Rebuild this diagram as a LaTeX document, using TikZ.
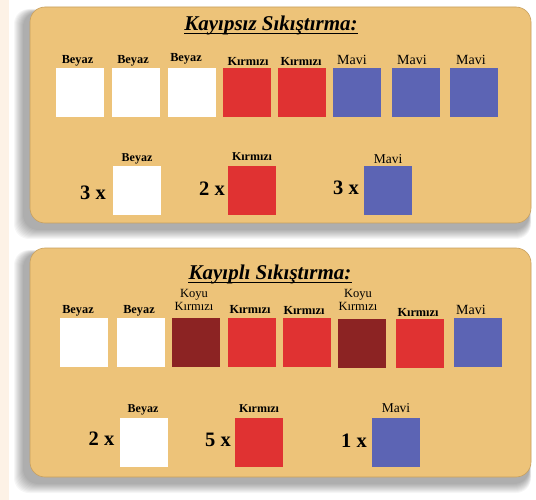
\documentclass[tikz,border=0pt]{standalone}
\usepackage{fontspec}
\setmainfont{Liberation Serif}
\definecolor{tan}{RGB}{237,195,121}
\definecolor{tanedge}{RGB}{200,160,95}
\definecolor{cred}{RGB}{224,50,50}
\definecolor{dred}{RGB}{140,35,35}
\definecolor{cblue}{RGB}{92,100,180}
\definecolor{cream}{RGB}{253,242,230}
\tikzset{
  panel/.style={fill=tan, draw=tanedge, line width=0.6pt, rounded corners=15pt},
  sq/.style={minimum width=48pt, minimum height=49pt, inner sep=0pt, draw=none},
  wsq/.style={sq, fill=white},
  rsq/.style={sq, fill=cred},
  dsq/.style={sq, fill=dred},
  bsq/.style={sq, fill=cblue},
  lb/.style={inner sep=0pt, font=\fontsize{12.3}{12}\selectfont\bfseries},
  lbs/.style={inner sep=0pt, font=\fontsize{12}{12}\selectfont\bfseries},
  lr/.style={inner sep=0pt, font=\fontsize{14}{14}\selectfont},
  lk/.style={inner sep=0pt, align=center, font=\fontsize{12.5}{13}\selectfont},
  cnt/.style={inner sep=0pt, font=\fontsize{20.5}{20}\selectfont\bfseries},
  ttl/.style={inner sep=0pt, font=\fontsize{21}{21}\selectfont\bfseries\itshape},
  uline/.style={line width=1.3pt}
}
\begin{document}
\begin{tikzpicture}[x=1pt,y=-1pt]
\useasboundingbox (0,0) rectangle (536,500);
\fill[white] (0,0) rectangle (536,500);
\fill[cream] (0,0) rectangle (9,500);
% shadows
\foreach \i in {1,...,10}{
  \fill[black, opacity=0.035, rounded corners=15pt] (30-6-\i,7+5-\i*0.3) rectangle (531-2+\i*0.2,223+6+\i);
  \fill[black, opacity=0.035, rounded corners=15pt] (30-6-\i,248+5-\i*0.3) rectangle (531-2+\i*0.2,477+6+\i);
}
% panels
\path[panel] (30,7) rectangle (531,223);
\path[panel] (30,248) rectangle (531,477);

% ---------- Panel 1 ----------
\node[ttl] (t1) at (271,25) {Kayıpsız Sıkıştırma:};
\draw[uline] ([yshift=-3.5pt]t1.base west) -- ([yshift=-3.5pt]t1.base east);

\node[wsq] (a1) at (79.5,92.5) {};
\node[wsq] (a2) at (135.5,92.5) {};
\node[wsq] (a3) at (192,92.5) {};
\node[rsq] (a4) at (247,92.5) {};
\node[rsq] (a5) at (302,92.5) {};
\node[bsq] (a6) at (357,92.5) {};
\node[bsq] (a7) at (416,92.5) {};
\node[bsq] (a8) at (473.5,92.5) {};

\node[lb] (la1) at (77.5,61) {Beyaz};
\node[lb] (la2) at (133,60.5) {Beyaz};
\node[lb] (la3) at (186,59) {Beyaz};
\node[lb] (la4) at (248,61) {Kırmızı};
\node[lb] (la5) at (301,61) {Kırmızı};
\node[lr] (la6) at (352,60) {Mavi};
\node[lr] (la7) at (412,60) {Mavi};
\node[lr] (la8) at (471,60) {Mavi};

\node[wsq] (b1) at (137,191) {};
\node[rsq] (b2) at (252,191) {};
\node[bsq] (b3) at (388,191) {};
\node[lbs] (lb1) at (137,159) {Beyaz};
\node[lbs] (lb2) at (252,157) {Kırmızı};
\node[lr, font=\fontsize{13.5}{13}\selectfont] (lb3) at (388,159) {Mavi};
\node[cnt] (n1) at (93,193) {3 x};
\node[cnt] (n2) at (212,189) {2 x};
\node[cnt] (n3) at (346,188) {3 x};

% ---------- Panel 2 ----------
\node[ttl] (t2) at (270,274) {Kayıplı Sıkıştırma:};
\draw[uline] ([yshift=-3.5pt]t2.base west) -- ([yshift=-3.5pt]t2.base east);

\node[wsq] (c1) at (84,342.5) {};
\node[wsq] (c2) at (141,342.5) {};
\node[dsq] (c3) at (196,342.5) {};
\node[rsq] (c4) at (252,342.5) {};
\node[rsq] (c5) at (307,342.5) {};
\node[dsq] (c6) at (362,343.5) {};
\node[rsq] (c7) at (420,343.5) {};
\node[bsq] (c8) at (478,342.5) {};

\node[lb] (lc1) at (78,311) {Beyaz};
\node[lb] (lc2) at (139,311) {Beyaz};
\node[lk] (lc3) at (194,300) {Koyu\\Kırmızı};
\node[lb] (lc4) at (250,309) {Kırmızı};
\node[lb] (lc5) at (304,310) {Kırmızı};
\node[lk] (lc6) at (358,300) {Koyu\\Kırmızı};
\node[lb] (lc7) at (418,312) {Kırmızı};
\node[lr] (lc8) at (471,310) {Mavi};

\node[wsq] (d1) at (143.5,442) {};
\node[rsq] (d2) at (259,442) {};
\node[bsq] (d3) at (395.5,442) {};
\node[lbs] (ld1) at (143,410) {Beyaz};
\node[lbs] (ld2) at (259,409) {Kırmızı};
\node[lr, font=\fontsize{13.5}{13}\selectfont] (ld3) at (396,408) {Mavi};
\node[cnt] (m1) at (101.5,439) {2 x};
\node[cnt] (m2) at (218,440) {5 x};
\node[cnt] (m3) at (354,441) {1 x};
\end{tikzpicture}
\end{document}
